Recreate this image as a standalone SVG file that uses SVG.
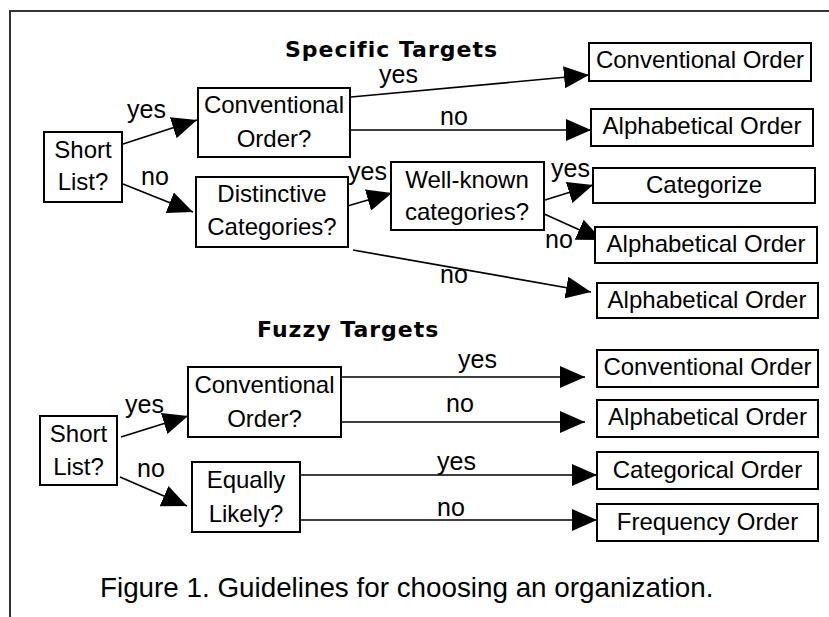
<svg xmlns="http://www.w3.org/2000/svg" width="829" height="617" viewBox="0 0 829 617">
<style>
.box{fill:#fff;stroke:#000;stroke-width:2}
.t{font-family:"Liberation Sans",Arial,sans-serif;font-size:24px;fill:#000;text-anchor:middle}
.lbl{font-family:"Liberation Sans",Arial,sans-serif;font-size:25px;fill:#000}
.title{font-family:"DejaVu Sans",Verdana,sans-serif;font-weight:bold;font-size:22px;letter-spacing:1px;fill:#000}
.cap{font-family:"Liberation Sans",Arial,sans-serif;font-size:27.8px;fill:#000}
.c{stroke:#000;stroke-width:1.7;fill:none;marker-end:url(#ah)}
</style>
<defs>
<marker id="ah" markerUnits="userSpaceOnUse" markerWidth="26" markerHeight="22" refX="25" refY="11" orient="auto">
<path d="M0,0 L25,11 L0,22 Z" fill="#000"/>
</marker>
</defs>
<rect width="829" height="617" fill="#fff"/>
<path d="M10,617 V11 H829" fill="none" stroke="#333" stroke-width="2"/>
<text class="title" x="285" y="57">Specific Targets</text>
<text class="title" x="257" y="337">Fuzzy Targets</text>

<g id="connectors">
<line class="c" x1="123" y1="144" x2="197" y2="120"/>
<line class="c" x1="123" y1="184" x2="193" y2="212"/>
<line class="c" x1="351" y1="97" x2="589" y2="75"/>
<line class="c" x1="351" y1="130" x2="591" y2="130"/>
<line class="c" x1="344" y1="207" x2="392" y2="193"/>
<line class="c" x1="545" y1="200" x2="593" y2="185"/>
<line class="c" x1="542" y1="213" x2="602" y2="240"/>
<line class="c" x1="353" y1="250" x2="591" y2="292"/>
<line class="c" x1="121" y1="437" x2="188" y2="416"/>
<line class="c" x1="120" y1="477" x2="187" y2="506"/>
<line class="c" x1="342" y1="377" x2="585" y2="377"/>
<line class="c" x1="342" y1="422" x2="585" y2="422"/>
<line class="c" x1="301" y1="475" x2="597" y2="475"/>
<line class="c" x1="301" y1="520" x2="597" y2="520"/>
<text class="lbl" x="127" y="118">yes</text>
<text class="lbl" x="141" y="185">no</text>
<text class="lbl" x="379" y="83">yes</text>
<text class="lbl" x="440" y="125">no</text>
<text class="lbl" x="348" y="180">yes</text>
<text class="lbl" x="551" y="177">yes</text>
<text class="lbl" x="545" y="248">no</text>
<text class="lbl" x="440" y="283">no</text>
<text class="lbl" x="125" y="413">yes</text>
<text class="lbl" x="137" y="477">no</text>
<text class="lbl" x="458" y="368">yes</text>
<text class="lbl" x="446" y="412">no</text>
<text class="lbl" x="437" y="470">yes</text>
<text class="lbl" x="437" y="516">no</text>
</g>

<g id="s-short"><rect class="box" x="44" y="132" width="78" height="70"/><text class="t" x="83" y="158">Short</text><text class="t" x="83" y="190">List?</text></g>
<g id="s-conv"><rect class="box" x="198" y="88" width="152" height="69"/><text class="t" x="274" y="113">Conventional</text><text class="t" x="274" y="147">Order?</text></g>
<g id="s-dist"><rect class="box" x="196" y="177" width="152" height="70"/><text class="t" x="272" y="202">Distinctive</text><text class="t" x="272" y="235">Categories?</text></g>
<g id="s-well"><rect class="box" x="391" y="162" width="153" height="68"/><text class="t" x="467" y="188">Well-known</text><text class="t" x="467" y="220">categories?</text></g>
<g id="s-r1"><rect class="box" x="589" y="43" width="222" height="38"/><text class="t" x="700" y="68">Conventional Order</text></g>
<g id="s-r2"><rect class="box" x="591" y="109" width="222" height="37"/><text class="t" x="702" y="134">Alphabetical Order</text></g>
<g id="s-r3"><rect class="box" x="593" y="168" width="222" height="35"/><text class="t" x="704" y="193">Categorize</text></g>
<g id="s-r4"><rect class="box" x="595" y="227" width="222" height="36"/><text class="t" x="706" y="252">Alphabetical Order</text></g>
<g id="s-r5"><rect class="box" x="597" y="283" width="221" height="35"/><text class="t" x="707" y="308">Alphabetical Order</text></g>

<g id="f-short"><rect class="box" x="40" y="416" width="77" height="69"/><text class="t" x="78.5" y="442">Short</text><text class="t" x="78.5" y="475">List?</text></g>
<g id="f-conv"><rect class="box" x="188" y="367" width="153" height="70"/><text class="t" x="264.5" y="393">Conventional</text><text class="t" x="264.5" y="427">Order?</text></g>
<g id="f-equal"><rect class="box" x="192" y="462" width="108" height="70"/><text class="t" x="246" y="488">Equally</text><text class="t" x="246" y="522">Likely?</text></g>
<g id="f-r1"><rect class="box" x="597" y="350" width="221" height="37"/><text class="t" x="707.5" y="375">Conventional Order</text></g>
<g id="f-r2"><rect class="box" x="597" y="400" width="221" height="37"/><text class="t" x="707.5" y="425">Alphabetical Order</text></g>
<g id="f-r3"><rect class="box" x="597" y="452" width="221" height="37"/><text class="t" x="707.5" y="478">Categorical Order</text></g>
<g id="f-r4"><rect class="box" x="597" y="504" width="221" height="37"/><text class="t" x="707.5" y="530">Frequency Order</text></g>

<text class="cap" x="100" y="597">Figure 1. Guidelines for choosing an organization.</text>
</svg>
